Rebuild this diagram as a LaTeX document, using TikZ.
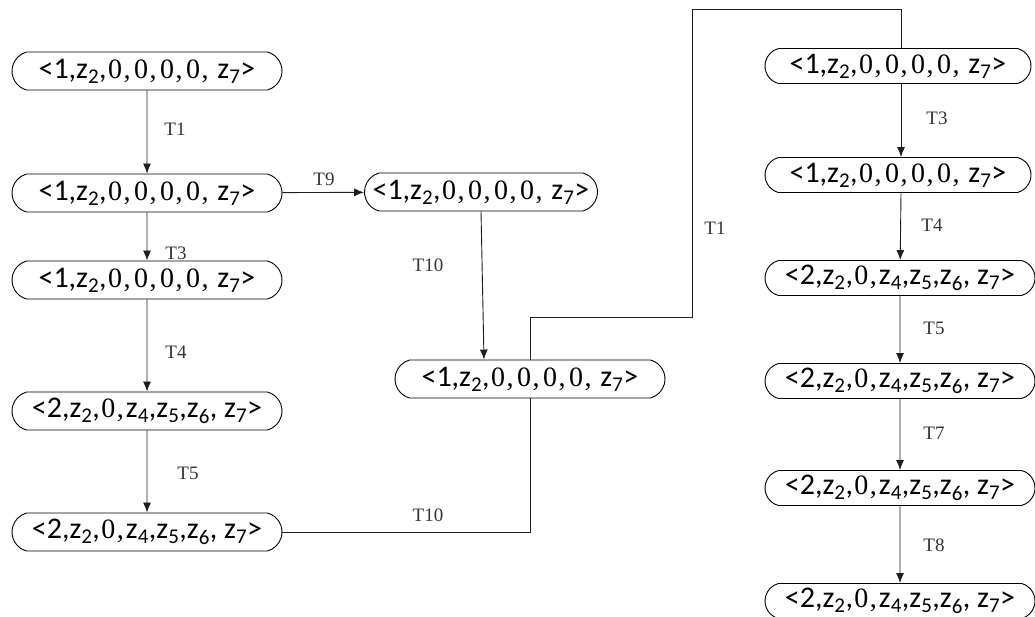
\documentclass[tikz,border=0pt]{standalone}
\usepackage{fontspec}
\setmainfont{Liberation Serif}
\newfontfamily\calib{Carlito}
\usetikzlibrary{shapes.misc,arrows.meta}
\newcommand{\zs}[1]{\makebox[17pt]{\fontsize{28}{30}\selectfont #1}}
\newcommand{\zc}{\makebox[9pt][l]{\fontsize{28}{30}\selectfont ,}}
\newcommand{\stone}{{\calib <1,z\textsubscript{2},}\foreach \k in {1,...,4}{\zs{0}\zc}{\calib\ z\textsubscript{7}>}}
\newcommand{\sttwo}{{\calib <2,z\textsubscript{2},}\zs{0}\zc{\calib z\textsubscript{4},z\textsubscript{5},z\textsubscript{6}, z\textsubscript{7}>}}
\definecolor{edge}{RGB}{30,30,30}
\tikzset{
  state/.style={draw, line width=0.9pt, rounded rectangle, rounded rectangle arc length=150, fill=white, minimum height=38pt, minimum width=270pt, inner xsep=0pt, inner ysep=0pt, font=\fontsize{30}{32}\selectfont},
  trans/.style={font=\fontsize{19}{21}\selectfont, text=black!80},
  arr/.style={draw=edge, line width=0.9pt, -{Latex[length=10pt,width=8pt]}},
  wire/.style={draw=edge, line width=0.9pt}
}
\begin{document}
\begin{tikzpicture}[x=1pt,y=-1pt]
\useasboundingbox (0,0) rectangle (1035,617);
\clip (0,0) rectangle (1035,617);
\node[state] (L1) at (147,71) {\stone};
\node[state] (L2) at (147,193) {\stone};
\node[state] (L3) at (147,280) {\stone};
\node[state] (L4) at (147,411) {\sttwo};
\node[state] (L5) at (147,532) {\sttwo};
\node[state, minimum width=233pt] (M1) at (481,192) {\stone};
\node[state] (M2) at (530,379) {\stone};
\node[state, minimum height=35pt, minimum width=266pt] (R1) at (898,66) {\stone};
\node[state, minimum height=35pt, minimum width=266pt] (R2) at (898,175) {\stone};
\node[state, minimum height=35pt] (R3) at (900,278) {\sttwo};
\node[state, minimum height=35pt] (R4) at (900,381) {\sttwo};
\node[state, minimum height=35pt] (R5) at (900,488) {\sttwo};
\node[state, minimum height=35pt] (R6) at (900,601) {\sttwo};
\coordinate (k1) at (692,317);
\coordinate (k2) at (692,9.5);
\draw[arr] (L1) -- (L2); \draw[arr] (L2) -- (L3); \draw[arr] (L3) -- (L4); \draw[arr] (L4) -- (L5);
\draw[arr] (L2) -- (M1); \draw[arr] (M1.south) -- ([xshift=-46pt]M2.north);
\draw[wire] (L5.east) -| (M2.south);
\draw[wire] (M2.north) |- (k1) -- (k2) -| ([xshift=3pt]R1.north);
\draw[arr] ([xshift=3pt]R1.south) -- ([xshift=3pt]R2.north); \draw[arr] ([xshift=3pt]R2.south) -- (R3); \draw[arr] (R3) -- (R4); \draw[arr] (R4) -- (R5); \draw[arr] (R5) -- (R6);
\node[trans] (t1) at (175,129) {T1};
\node[trans] (t3) at (176,253) {T3};
\node[trans] (t4) at (176,352) {T4};
\node[trans] (t5) at (188,473) {T5};
\node[trans] (t9) at (324,179) {T9};
\node[trans] (t10a) at (428,265) {T10};
\node[trans] (t10b) at (428,515) {T10};
\node[trans] (t1b) at (715,228) {T1};
\node[trans] (t3b) at (937,118) {T3};
\node[trans] (t4b) at (932,225) {T4};
\node[trans] (t5b) at (934,328) {T5};
\node[trans] (t7b) at (934,433) {T7};
\node[trans] (t8b) at (934,545) {T8};
\end{tikzpicture}
\end{document}
